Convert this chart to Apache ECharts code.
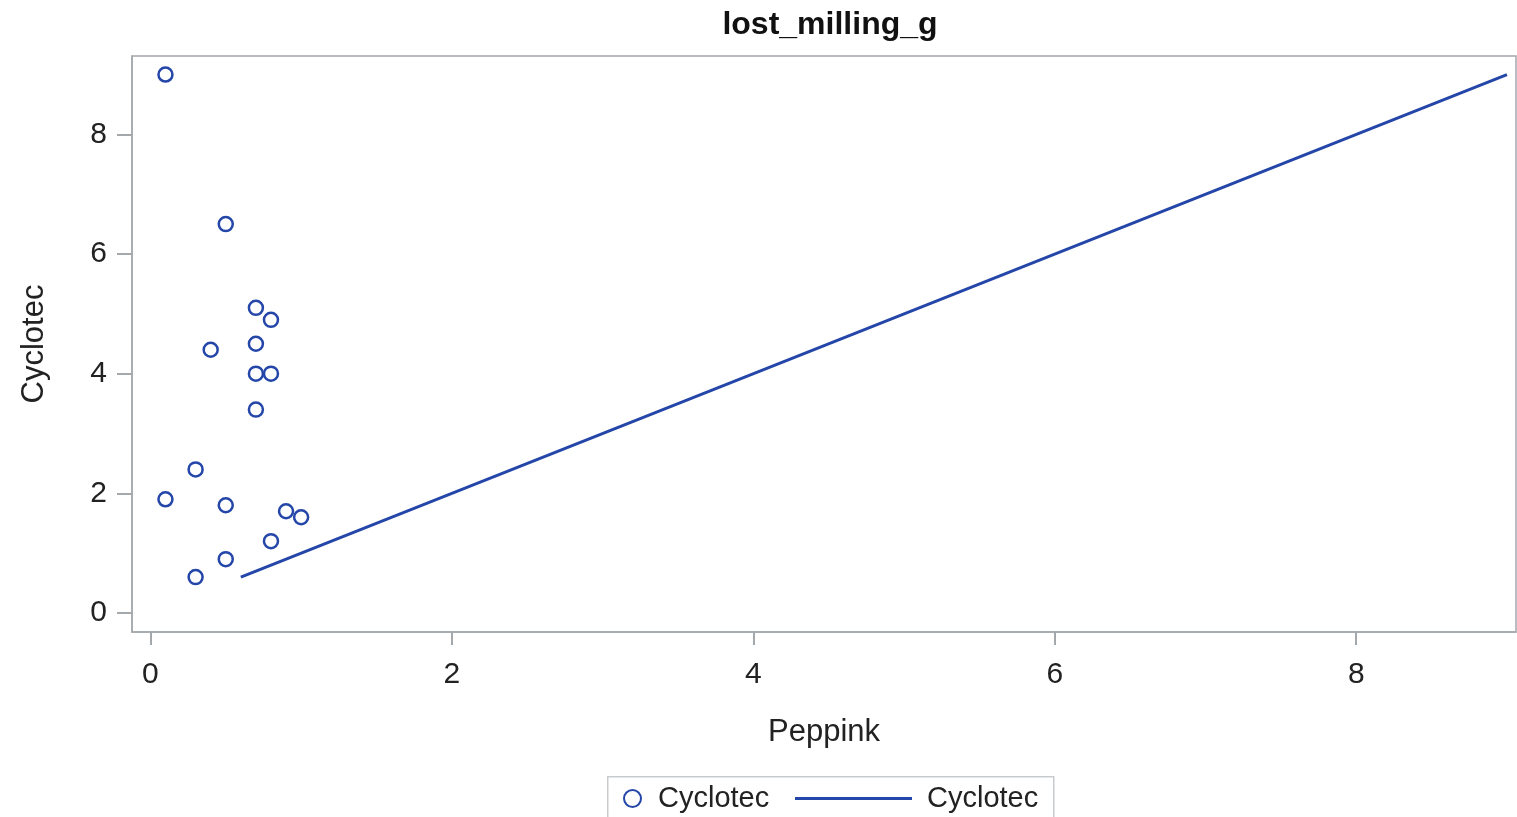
<!DOCTYPE html>
<html>
<head>
<meta charset="utf-8">
<style>
html,body{margin:0;padding:0;background:#fff;}
#chart{width:1517px;height:817px;}
</style>
<script src="https://cdn.jsdelivr.net/npm/echarts@6/dist/echarts.min.js"></script>
</head>
<body>
<div id="chart"></div>
<script>
const title = 'lost_milling_g';
const xName = 'Peppink';
const yName = 'Cyclotec';
const seriesName = 'Cyclotec';
const peppink = [0.1, 0.5, 0.7, 0.8, 0.4, 0.7, 0.7, 0.8, 0.7, 0.3, 0.1, 0.5, 0.9, 1.0, 0.8, 0.5, 0.3];
const cyclotec = [9.0, 6.5, 5.1, 4.9, 4.4, 4.5, 4.0, 4.0, 3.4, 2.4, 1.9, 1.8, 1.7, 1.6, 1.2, 0.9, 0.6];
const lineX = [0.6, 9.0];
const lineY = [0.6, 9.0];
const xTicks = [0, 2, 4, 6, 8];
const yTicks = [0, 2, 4, 6, 8];

const blue = '#2446a8';
const grey = '#a3a8ad';
const font = '"Liberation Sans", Arial, sans-serif';

const chart = echarts.init(document.getElementById('chart'));
chart.setOption({
  animation: false,
  backgroundColor: '#fff',
  title: {
    text: title, left: 825, textAlign: 'center', top: 4,
    textStyle: {fontFamily: font, fontWeight: 'bold', fontSize: 32, color: '#111'}
  },
  grid: {
    left: 132, right: 1, top: 56, bottom: 185,
    show: true, borderColor: grey, borderWidth: 1.5, backgroundColor: '#fff'
  },
  xAxis: {
    type: 'value', min: -0.122, max: 9.06,
    name: xName, nameLocation: 'middle', nameGap: 85,
    nameTextStyle: {fontFamily: font, fontSize: 31, color: '#222'},
    axisLine: {show: true, onZero: false, lineStyle: {color: grey, width: 1.5}},
    axisTick: {show: true, length: 13, customValues: xTicks, lineStyle: {color: grey, width: 2}},
    axisLabel: {customValues: xTicks, margin: 28, fontFamily: font, fontSize: 30, color: '#222'},
    splitLine: {show: false}
  },
  yAxis: {
    type: 'value', min: -0.318, max: 9.31,
    name: yName, nameLocation: 'middle', nameGap: 82, nameRotate: 90,
    nameTextStyle: {fontFamily: font, fontSize: 31, color: '#222'},
    axisLine: {show: true, onZero: false, lineStyle: {color: grey, width: 1.5}},
    axisTick: {show: true, length: 15, customValues: yTicks, lineStyle: {color: grey, width: 2}},
    axisLabel: {customValues: yTicks, margin: 25, fontFamily: font, fontSize: 30, color: '#222'},
    splitLine: {show: false}
  },
  legend: [
    {
      data: [{name: seriesName, icon: 'circle'}],
      left: 623, top: 784, itemWidth: 17, itemHeight: 17, itemGap: 0,
      textStyle: {fontFamily: font, fontSize: 29, color: '#222', padding: [0, 0, 0, 12]},
      padding: 0
    },
    {
      data: [{name: seriesName + ' ', icon: 'rect', itemStyle: {color: blue, borderWidth: 0}}],
      left: 795, top: 784, itemWidth: 117, itemHeight: 3,
      textStyle: {fontFamily: font, fontSize: 29, color: '#222', padding: [0, 0, 0, 10]},
      padding: 0
    }
  ],
  graphic: [{
    type: 'rect', left: 607, top: 776, z: 0,
    shape: {width: 446, height: 50},
    style: {fill: '#fff', stroke: '#c8cbce', lineWidth: 1.5}
  }],
  series: [
    {
      name: seriesName, type: 'scatter',
      data: peppink.map((v, i) => [v, cyclotec[i]]),
      symbol: 'circle', symbolSize: 14,
      itemStyle: {color: 'rgba(255,255,255,0)', borderColor: blue, borderWidth: 2.5, opacity: 1},
      z: 3
    },
    {
      name: seriesName + ' ', type: 'line',
      data: lineX.map((v, i) => [v, lineY[i]]),
      symbol: 'none', showSymbol: false,
      lineStyle: {color: blue, width: 3},
      itemStyle: {color: blue},
      z: 2
    }
  ]
});
</script>
</body>
</html>
